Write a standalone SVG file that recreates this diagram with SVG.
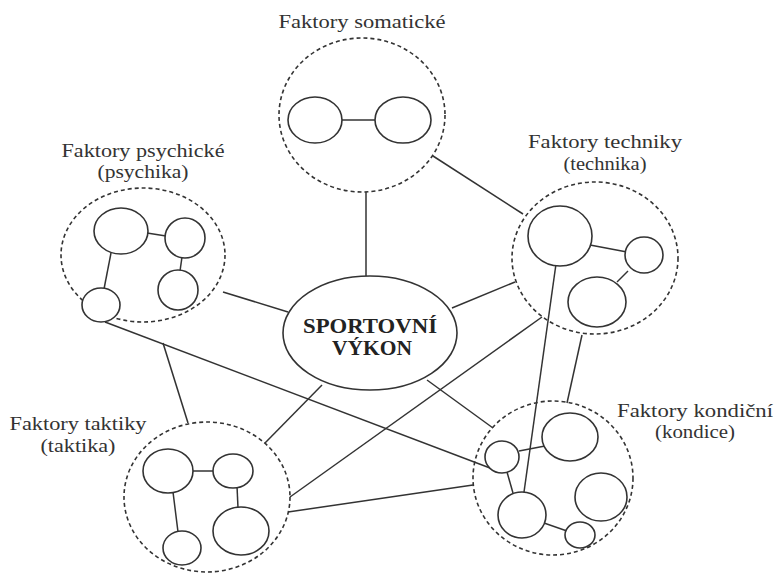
<svg xmlns="http://www.w3.org/2000/svg" width="777" height="573" viewBox="0 0 777 573">
<style>
.grp{fill:none;stroke:#333;stroke-width:1.6;stroke-dasharray:4 3}
.c{fill:#fff;stroke:#333;stroke-width:1.6}
.l{stroke:#333;stroke-width:1.5;fill:none}
.t{font-family:"Liberation Serif","Times New Roman",serif;font-size:18px;fill:#333;text-anchor:middle}
.b{font-family:"Liberation Serif","Times New Roman",serif;font-size:20px;font-weight:bold;fill:#222;text-anchor:middle}
</style>
<rect width="777" height="573" fill="#fff"/>
<g id="connectors">
<line class="l" x1="366" y1="192" x2="366" y2="276"/>
<line class="l" x1="433" y1="156" x2="523" y2="214"/>
<line class="l" x1="223" y1="292" x2="288" y2="312"/>
<line class="l" x1="105" y1="322" x2="490" y2="468"/>
<line class="l" x1="163" y1="343" x2="188" y2="423"/>
<line class="l" x1="322" y1="385" x2="265" y2="443"/>
<line class="l" x1="452" y1="308" x2="515" y2="282"/>
<line class="l" x1="427" y1="380" x2="493" y2="428"/>
<line class="l" x1="542" y1="317" x2="290" y2="497"/>
<line class="l" x1="556" y1="264" x2="524" y2="492"/>
<line class="l" x1="582" y1="335" x2="567" y2="403"/>
<line class="l" x1="473" y1="485" x2="288" y2="512"/>
</g>
<g id="somaticke">
<ellipse class="grp" cx="362" cy="115" rx="83" ry="77"/>
<line class="l" x1="342" y1="120" x2="376" y2="120"/>
<ellipse class="c" cx="315" cy="120" rx="27" ry="23"/>
<ellipse class="c" cx="403" cy="120" rx="28" ry="23"/>
<text class="t" x="362" y="28" textLength="167" lengthAdjust="spacingAndGlyphs">Faktory somatické</text>
</g>
<g id="psychika">
<ellipse class="grp" cx="143" cy="255" rx="82" ry="67"/>
<line class="l" x1="147" y1="233" x2="166" y2="236"/>
<line class="l" x1="182" y1="257" x2="180" y2="271"/>
<line class="l" x1="111" y1="253" x2="104" y2="289"/>
<ellipse class="c" cx="121" cy="231" rx="27" ry="23"/>
<ellipse class="c" cx="185" cy="238" rx="20" ry="20"/>
<ellipse class="c" cx="178" cy="290" rx="20" ry="20"/>
<ellipse class="c" cx="101" cy="305" rx="19" ry="17"/>
<text class="t" x="143" y="157" textLength="163" lengthAdjust="spacingAndGlyphs">Faktory psychické</text>
<text class="t" x="143" y="178" textLength="91" lengthAdjust="spacingAndGlyphs">(psychika)</text>
</g>
<g id="technika">
<ellipse class="grp" cx="595" cy="258" rx="83" ry="76"/>
<line class="l" x1="590" y1="245" x2="627" y2="252"/>
<line class="l" x1="628" y1="271" x2="617" y2="282"/>
<ellipse class="c" cx="560" cy="236" rx="32" ry="30"/>
<ellipse class="c" cx="644" cy="255" rx="19" ry="18"/>
<ellipse class="c" cx="597" cy="302" rx="29" ry="25"/>
<text class="t" x="605" y="148" textLength="154" lengthAdjust="spacingAndGlyphs">Faktory techniky</text>
<text class="t" x="605" y="170" textLength="83" lengthAdjust="spacingAndGlyphs">(technika)</text>
</g>
<g id="taktika">
<ellipse class="grp" cx="207" cy="497" rx="83" ry="75"/>
<line class="l" x1="192" y1="471" x2="214" y2="471"/>
<line class="l" x1="237" y1="486" x2="238" y2="508"/>
<line class="l" x1="173" y1="492" x2="178" y2="532"/>
<ellipse class="c" cx="168" cy="471" rx="25" ry="22"/>
<ellipse class="c" cx="233" cy="471" rx="20" ry="17"/>
<ellipse class="c" cx="241" cy="531" rx="28" ry="24"/>
<ellipse class="c" cx="182" cy="548" rx="19" ry="17"/>
<text class="t" x="78" y="430" textLength="137" lengthAdjust="spacingAndGlyphs">Faktory taktiky</text>
<text class="t" x="78" y="452" textLength="75" lengthAdjust="spacingAndGlyphs">(taktika)</text>
</g>
<g id="kondice">
<ellipse class="grp" cx="553" cy="478" rx="80" ry="77"/>
<line class="l" x1="519" y1="451" x2="545" y2="446"/>
<line class="l" x1="507" y1="472" x2="513" y2="493"/>
<line class="l" x1="544" y1="523" x2="567" y2="531"/>
<ellipse class="c" cx="502" cy="457" rx="17" ry="16"/>
<ellipse class="c" cx="570" cy="437" rx="28" ry="24"/>
<ellipse class="c" cx="601" cy="497" rx="26" ry="24"/>
<ellipse class="c" cx="522" cy="515" rx="24" ry="23"/>
<ellipse class="c" cx="580" cy="535" rx="15" ry="13"/>
<text class="t" x="695" y="417" textLength="156" lengthAdjust="spacingAndGlyphs">Faktory kondiční</text>
<text class="t" x="695" y="438" textLength="80" lengthAdjust="spacingAndGlyphs">(kondice)</text>
</g>
<g id="sportovni-vykon">
<ellipse class="c" cx="370" cy="333" rx="87" ry="57"/>
<text class="b" x="370" y="333" textLength="134" lengthAdjust="spacingAndGlyphs">SPORTOVNÍ</text>
<text class="b" x="372" y="355" textLength="80" lengthAdjust="spacingAndGlyphs">VÝKON</text>
</g>
</svg>
